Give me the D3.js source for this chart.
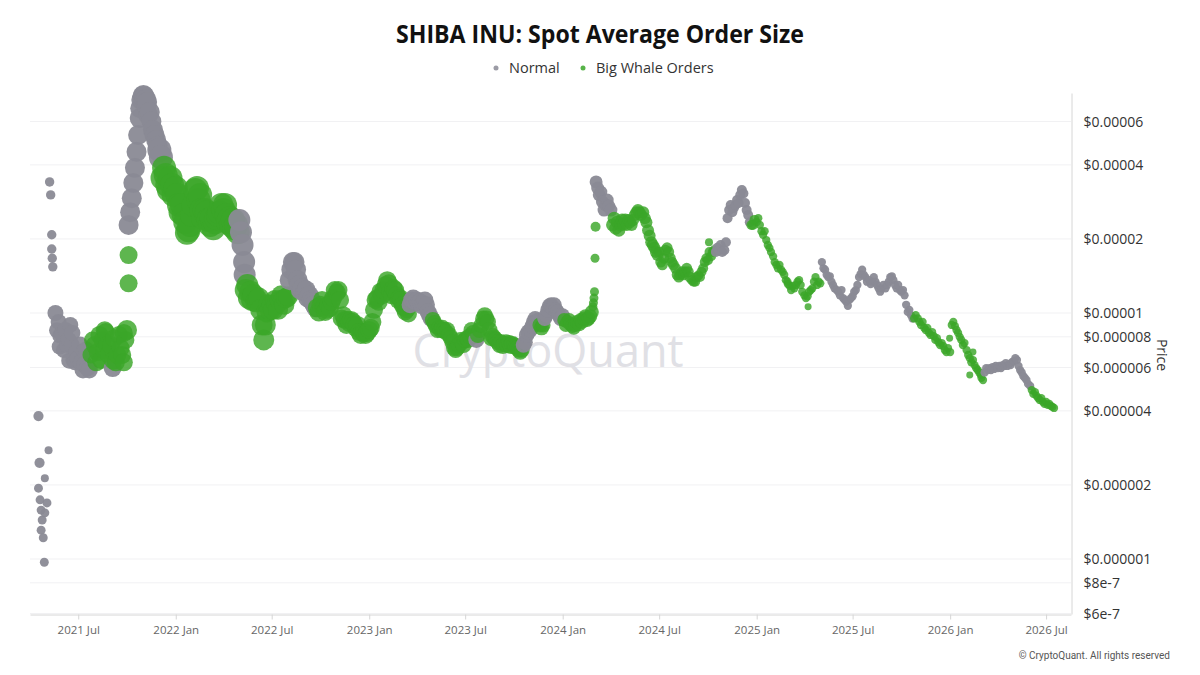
<!DOCTYPE html>
<html><head><meta charset="utf-8">
<script src="https://cdn.jsdelivr.net/npm/d3@7"></script>
<style>html,body{margin:0;padding:0;background:#fff;} svg{display:block;font-family:"Open Sans",sans-serif;}</style>
</head><body><svg id="c" width="1200" height="675"></svg>
<script>
// ---------------- DATA ----------------
const seriesNames = ["Normal", "Big Whale Orders"];
const xTickDates = ["2021-07-01","2022-01-01","2022-07-01","2023-01-01","2023-07-01","2024-01-01","2024-07-01","2025-01-01","2025-07-01","2026-01-01","2026-07-01"];
const yTickValues = [6e-7, 8e-7, 1e-6, 2e-6, 4e-6, 6e-6, 8e-6, 1e-5, 2e-5, 4e-5, 6e-5];
const yTickLabels = ["$6e-7","$8e-7","$0.000001","$0.000002","$0.000004","$0.000006","$0.000008","$0.00001","$0.00002","$0.00004","$0.00006"];

// sampling days inside each month
const days = [1,4,7,10,13,16,19,22,25,28];
const months = ["2021-05","2021-06","2021-07","2021-08","2021-09","2021-10","2021-11","2021-12",
"2022-01","2022-02","2022-03","2022-04","2022-05","2022-06","2022-07","2022-08","2022-09","2022-10","2022-11","2022-12",
"2023-01","2023-02","2023-03","2023-04","2023-05","2023-06","2023-07","2023-08","2023-09","2023-10","2023-11","2023-12",
"2024-01","2024-02","2024-03","2024-04","2024-05","2024-06","2024-07","2024-08","2024-09","2024-10","2024-11","2024-12",
"2025-01","2025-02","2025-03","2025-04","2025-05","2025-06","2025-07","2025-08","2025-09","2025-10","2025-11","2025-12",
"2026-01","2026-02","2026-03","2026-04","2026-05","2026-06","2026-07"];
// price (USD) on each sampling day
const monthPrices = [
[null,null,null,null,null,null,1.0e-5,8.5e-6,9.2e-6,8.1e-6],
[8.14e-6,7.07e-6,8.53e-6,7.41e-6,7.77e-6,8.94e-6,7.41e-6,6.44e-6,6.3e-6,6.94e-6],
[6.5e-6,7.41e-6,6.3e-6,5.86e-6,6.14e-6,7.07e-6,5.97e-6,5.86e-6,6.75e-6,7.77e-6],
[7.41e-6,6.3e-6,6.94e-6,8.14e-6,6.44e-6,7.77e-6,7.07e-6,8.37e-6,7.41e-6,6.75e-6],
[7.41e-6,5.97e-6,7.9e-6,6.3e-6,6.75e-6,8.14e-6,7.2e-6,6.75e-6,6.3e-6,7.77e-6],
[8.53e-6,2.28e-5,2.57e-5,2.93e-5,3.38e-5,3.89e-5,4.52e-5,5.29e-5,6.2e-5,7.34e-5],
[7.7e-5,7.34e-5,6.94e-5,6.38e-5,6.56e-5,6.0e-5,5.55e-5,5.29e-5,5.05e-5,4.78e-5],
[4.6e-5,4.3e-5,3.54e-5,3.89e-5,3.64e-5,3.31e-5,3.16e-5,3.54e-5,3.31e-5,3.02e-5],
[3.22e-5,3.02e-5,2.75e-5,2.57e-5,2.75e-5,2.5e-5,2.34e-5,2.12e-5,2.17e-5,2.28e-5],
[2.5e-5,2.75e-5,3.16e-5,3.22e-5,2.88e-5,3.02e-5,2.62e-5,2.43e-5,2.62e-5,2.52e-5],
[2.57e-5,2.39e-5,2.28e-5,2.43e-5,2.21e-5,2.34e-5,2.43e-5,2.5e-5,2.57e-5,2.75e-5],
[2.62e-5,2.75e-5,2.5e-5,2.34e-5,2.43e-5,2.28e-5,2.39e-5,2.21e-5,2.28e-5,2.13e-5],
[2.39e-5,2.13e-5,1.89e-5,1.61e-5,1.24e-5,1.3e-5,1.15e-5,1.22e-5,1.13e-5,1.18e-5],
[1.11e-5,1.13e-5,1.15e-5,1.03e-5,8.94e-6,7.77e-6,8.94e-6,1.01e-5,1.08e-5,1.03e-5],
[1.08e-5,1.03e-5,1.13e-5,1.08e-5,1.03e-5,1.13e-5,1.18e-5,1.13e-5,1.08e-5,1.15e-5],
[1.17e-5,1.36e-5,1.5e-5,1.61e-5,1.61e-5,1.5e-5,1.36e-5,1.3e-5,1.24e-5,1.26e-5],
[1.21e-5,1.24e-5,1.15e-5,1.18e-5,1.13e-5,1.11e-5,1.08e-5,1.05e-5,1.05e-5,1.01e-5],
[1.08e-5,1.13e-5,1.06e-5,1.01e-5,1.03e-5,1.08e-5,1.05e-5,1.11e-5,1.15e-5,1.24e-5],
[1.21e-5,1.24e-5,1.13e-5,9.5e-6,9.8e-6,9.37e-6,8.94e-6,9.37e-6,9.1e-6,9.37e-6],
[9.2e-6,8.94e-6,8.7e-6,8.94e-6,8.37e-6,8.14e-6,8.37e-6,8.3e-6,8.14e-6,8.3e-6],
[8.53e-6,8.7e-6,9.2e-6,1.03e-5,1.13e-5,1.15e-5,1.11e-5,1.22e-5,1.18e-5,1.24e-5],
[1.3e-5,1.36e-5,1.32e-5,1.22e-5,1.18e-5,1.26e-5,1.24e-5,1.18e-5,1.13e-5,1.15e-5],
[1.13e-5,1.08e-5,1.05e-5,1.01e-5,1.03e-5,9.9e-6,1.08e-5,1.13e-5,1.15e-5,1.11e-5],
[1.13e-5,1.1e-5,1.11e-5,1.07e-5,1.09e-5,1.13e-5,1.08e-5,1.01e-5,9.8e-6,9.5e-6],
[9.37e-6,9.1e-6,8.85e-6,8.53e-6,8.7e-6,8.53e-6,8.7e-6,8.53e-6,8.37e-6,8.53e-6],
[8.14e-6,7.9e-6,7.6e-6,7.2e-6,7.07e-6,7.2e-6,7.41e-6,7.77e-6,7.6e-6,7.41e-6],
[7.77e-6,7.9e-6,7.77e-6,8.06e-6,8.53e-6,8.3e-6,8.06e-6,7.77e-6,8.14e-6,8.53e-6],
[8.94e-6,9.5e-6,9.8e-6,9.5e-6,9.2e-6,8.53e-6,7.9e-6,8.06e-6,7.9e-6,7.77e-6],
[7.6e-6,7.41e-6,7.6e-6,7.34e-6,7.48e-6,7.6e-6,7.41e-6,7.55e-6,7.34e-6,7.48e-6],
[7.41e-6,7.27e-6,7.2e-6,7.07e-6,6.94e-6,7.07e-6,7.41e-6,7.6e-6,8.14e-6,8.37e-6],
[8.53e-6,8.85e-6,9.2e-6,9.5e-6,9.2e-6,9.37e-6,8.94e-6,8.7e-6,8.94e-6,9.5e-6],
[9.8e-6,1.03e-5,1.07e-5,1.08e-5,1.05e-5,1.08e-5,1.03e-5,1.01e-5,9.8e-6,9.5e-6],
[9.8e-6,9.37e-6,8.94e-6,9.2e-6,9.37e-6,9.0e-6,8.85e-6,8.7e-6,8.94e-6,9.2e-6],
[9.0e-6,9.37e-6,9.2e-6,9.5e-6,9.7e-6,9.37e-6,9.5e-6,9.7e-6,1.01e-5,null],
[null,3.41e-5,3.22e-5,3.02e-5,3.1e-5,2.83e-5,2.62e-5,2.75e-5,2.88e-5,2.72e-5],
[2.62e-5,2.28e-5,2.43e-5,2.21e-5,2.34e-5,2.17e-5,2.28e-5,2.39e-5,2.3e-5,2.39e-5],
[2.28e-5,2.39e-5,2.34e-5,2.28e-5,2.39e-5,2.5e-5,2.57e-5,2.62e-5,2.57e-5,2.5e-5],
[2.57e-5,2.43e-5,2.34e-5,2.17e-5,2.06e-5,1.94e-5,1.89e-5,1.84e-5,1.77e-5,1.72e-5],
[1.77e-5,1.61e-5,1.57e-5,1.67e-5,1.8e-5,1.84e-5,1.77e-5,1.67e-5,1.61e-5,1.57e-5],
[1.52e-5,1.43e-5,1.4e-5,1.43e-5,1.47e-5,1.43e-5,1.47e-5,1.52e-5,1.47e-5,1.4e-5],
[1.36e-5,1.34e-5,1.34e-5,1.4e-5,1.42e-5,1.4e-5,1.47e-5,1.52e-5,1.61e-5,1.67e-5],
[1.64e-5,1.77e-5,1.7e-5,1.77e-5,1.8e-5,1.77e-5,1.84e-5,1.8e-5,1.89e-5,1.77e-5],
[1.8e-5,1.94e-5,2.43e-5,2.62e-5,2.75e-5,2.57e-5,2.67e-5,2.75e-5,2.88e-5,2.8e-5],
[3.02e-5,3.16e-5,3.06e-5,2.8e-5,2.62e-5,2.5e-5,2.34e-5,2.28e-5,2.28e-5,2.39e-5],
[2.34e-5,2.43e-5,2.28e-5,2.15e-5,2.08e-5,2.15e-5,1.98e-5,1.89e-5,1.84e-5,1.77e-5],
[1.7e-5,1.61e-5,1.57e-5,1.52e-5,1.57e-5,1.5e-5,1.47e-5,1.43e-5,1.36e-5,1.34e-5],
[1.31e-5,1.29e-5,1.24e-5,1.29e-5,1.26e-5,1.3e-5,1.34e-5,1.36e-5,1.3e-5,1.22e-5],
[1.18e-5,1.15e-5,1.17e-5,1.22e-5,1.24e-5,1.26e-5,1.34e-5,1.4e-5,1.3e-5,1.34e-5],
[1.32e-5,1.61e-5,1.52e-5,1.5e-5,1.43e-5,1.4e-5,1.41e-5,1.34e-5,1.3e-5,1.26e-5],
[1.24e-5,1.22e-5,1.18e-5,1.24e-5,1.15e-5,1.13e-5,1.11e-5,1.07e-5,1.13e-5,1.15e-5],
[1.17e-5,1.22e-5,1.24e-5,1.3e-5,1.4e-5,1.44e-5,1.5e-5,1.43e-5,1.4e-5,1.34e-5],
[1.36e-5,1.31e-5,1.34e-5,1.4e-5,1.34e-5,1.3e-5,1.26e-5,1.22e-5,1.26e-5,1.3e-5],
[1.26e-5,1.3e-5,1.34e-5,1.4e-5,1.41e-5,1.36e-5,1.3e-5,1.26e-5,1.3e-5,1.24e-5],
[1.22e-5,1.24e-5,1.18e-5,1.08e-5,1.01e-5,1.03e-5,9.8e-6,9.5e-6,9.5e-6,9.8e-6],
[9.5e-6,9.2e-6,8.94e-6,9.2e-6,8.7e-6,8.53e-6,8.7e-6,8.3e-6,8.14e-6,8.37e-6],
[8.06e-6,7.77e-6,7.9e-6,7.6e-6,7.41e-6,7.55e-6,7.34e-6,7.07e-6,6.94e-6,7.2e-6],
[6.94e-6,8.94e-6,9.2e-6,8.85e-6,8.53e-6,8.3e-6,8.0e-6,7.77e-6,7.41e-6,7.55e-6],
[7.07e-6,6.75e-6,6.55e-6,6.3e-6,6.44e-6,6.14e-6,5.97e-6,5.86e-6,5.73e-6,5.6e-6],
[5.45e-6,5.34e-6,5.73e-6,5.97e-6,5.86e-6,5.97e-6,5.86e-6,6.03e-6,5.92e-6,6.09e-6],
[5.97e-6,6.09e-6,5.97e-6,6.14e-6,6.09e-6,6.26e-6,6.09e-6,6.2e-6,6.14e-6,6.32e-6],
[6.38e-6,6.55e-6,6.44e-6,6.09e-6,5.86e-6,5.73e-6,5.54e-6,5.45e-6,5.34e-6,5.15e-6],
[5.05e-6,4.86e-6,4.69e-6,4.77e-6,4.6e-6,4.51e-6,4.43e-6,4.51e-6,4.35e-6,4.27e-6],
[4.35e-6,4.23e-6,4.27e-6,4.19e-6,4.15e-6,4.11e-6,null,null,null,null]
];
// N = Normal, W = Big Whale Orders
const monthKinds = [
"NNNNNNNNNN","NNNNNNNNNN","NNNNNNNNWW","WWWWWWWWWW","WNWWWWWWWW","WNNNNNNNNN","NNNNNNNNNN","NNWWWWWWWW",
"WWWWWWWWWW","WWWWWWWWWW","WWWWWWWWWW","WWWWWWWWWW","NNNNWWWWWW","WWWWWWWWWW","WWWWWWWWWW","WNNNNNNNNN","NNNNNNNNWW","WWWWWWWWWW","WWWWWWWWWW","WWWWWWWWWW",
"WWWWWWWWWW","WWWWWWWWWW","WWWWWWNNNN","NNNNNNNNNN","WWWWWWWWWW","WWWWWWWWWW","WWWWWWWNWW","WWWWWWWWWW","WWWWWWWWWW","WWWWWWNNNN","NNNNNNWWWN","NNNNNNNNNN",
"NWWWWWWWWW","WWWWWWWWWW","NNNNNNNNNN","NWWWWWWWWW","WWWWWWWWWW","WWWWWWWWWW","WWWWWWWWWW","WWWWWWWWWW","WWWWWWWWWW","WWWWWNNNNN","NNNNNNNNNN","NNNNNNNWWW",
"WWWWWWWWWW","WWWWWWWWWW","WWWWWWWWWW","WWWWWWWWWW","WNNNNNNNNN","NNNNNNNNNN","NNNNNNNNNN","NNNNNNNNNN","NNNNNNNNNN","NNNNNNNNWW","WWWWWWWWWW","WWWWWWWWWW",
"WWWWWWWWWW","WWWWWWWWWW","WWNNNNNNNN","NNNNNNNNNN","NNNNNNNNNN","NWWWWWWWWW","WWWWWW----"
];
// relative average order size (bubble area)
const monthOrderSize = [640,640,720,810,810,1000,1000,1440,
1440,1440,1440,1440,1210,1100,1000,1000,900,810,810,810,
810,810,720,720,640,640,640,640,640,600,560,560,
490,490,420,420,360,360,300,300,250,250,250,250,
170,170,170,170,170,170,170,170,170,170,170,170,
170,170,170,170,170,170,170];

// isolated / extra observations
const extraDates = ["2021-04-17","2021-04-19","2021-04-17","2021-04-20","2021-04-22","2021-04-24","2021-04-22","2021-04-26","2021-04-28","2021-04-29","2021-04-29","2021-05-03","2021-05-06",
"2021-05-08","2021-05-10","2021-05-12","2021-05-12","2021-05-13","2021-05-14",
"2021-05-27","2021-06-14","2021-06-20","2021-07-12",
"2021-08-20","2021-09-05","2021-09-25",
"2021-10-04","2021-10-04","2021-10-26","2021-10-30","2021-11-03","2021-11-06","2021-11-08","2022-05-11",
"2024-02-27","2024-02-28","2024-02-29","2024-03-01","2024-03-02","2024-03-03",
"2024-10-03","2025-04-08","2025-12-31","2026-02-07","2026-02-13"];
const extraPrices = [3.81e-6,2.46e-6,1.94e-6,1.74e-6,1.58e-6,1.44e-6,1.31e-6,1.22e-6,9.7e-7,2.13e-6,1.54e-6,1.69e-6,2.77e-6,
3.41e-5,3.02e-5,2.08e-5,1.82e-5,1.67e-5,1.54e-5,
7.3e-6,6.4e-6,8.3e-6,7.0e-6,
8.5e-6,6.4e-6,8.3e-6,
1.72e-5,1.32e-5,6.8e-5,7.6e-5,7.6e-5,7.4e-5,7.2e-5,1.43e-5,
1.06e-5,1.1e-5,1.15e-5,1.22e-5,1.67e-5,2.24e-5,
1.94e-5,1.06e-5,7.9e-6,5.6e-6,6.94e-6];
const extraKinds = ["N","N","N","N","N","N","N","N","N","N","N","N","N",
"N","N","N","N","N","N",
"N","N","N","N",
"W","W","W",
"W","W","N","N","N","N","N","N",
"W","W","W","W","W","W",
"W","W","W","W","W"];
const extraOrderSize = [260,260,200,200,200,200,200,200,200,160,200,200,160,
220,220,220,220,220,220,
640,640,640,640,
810,810,810,
810,810,1000,1000,1000,1000,1000,1210,
202,202,202,202,202,250,
160,122,122,122,122];

// ---------------- CHART ----------------
const parse = d3.utcParse("%Y-%m-%d");
const points = [];
months.forEach((m, i) => {
  days.forEach((dd, j) => {
    const p = monthPrices[i][j];
    if (p == null) return;
    points.push({date: parse(m + "-" + String(dd).padStart(2, "0")), price: p, kind: monthKinds[i][j], size: monthOrderSize[i]});
  });
});
extraDates.forEach((d, i) => points.push({date: parse(d), price: extraPrices[i], kind: extraKinds[i], size: extraOrderSize[i]}));
points.sort((a, b) => a.date - b.date);

const plot = {left: 30, right: 1071, top: 93, bottom: 614};
const svg = d3.select("#c");
const x = d3.scaleUtc().domain([parse("2021-04-01"), parse("2026-08-17")]).range([plot.left, plot.right]);
const y = d3.scaleLog().domain([5.975e-7, 7.84e-5]).range([plot.bottom, plot.top]);
const r = d3.scaleSqrt().domain([0, 1440]).range([0, 12]);
const color = d3.scaleOrdinal().domain(["N", "W"]).range(["#8a8a95", "#3aa628"]);
const opac = {N: 0.95, W: 0.82};

// gridlines
svg.append("g").selectAll("line").data(yTickValues).join("line")
  .attr("x1", plot.left).attr("x2", plot.right)
  .attr("y1", d => y(d)).attr("y2", d => y(d))
  .attr("stroke", "#f1f1f3").attr("stroke-width", 1);

// watermark
svg.append("text").attr("x", 548).attr("y", 367).attr("text-anchor", "middle")
  .attr("font-size", 45).attr("font-weight", 500).attr("fill", "#e0e0e5")
  .attr("font-family", "'Open Sans', sans-serif").text("CryptoQuant");

// bottom axis
const xAxis = d3.axisBottom(x).tickValues(xTickDates.map(parse)).tickFormat(d3.utcFormat("%Y %b")).tickSize(5).tickSizeOuter(0).tickPadding(6);
const gx = svg.append("g").attr("transform", `translate(0,${plot.bottom + 0.5})`).call(xAxis);
gx.select(".domain").attr("stroke", "#d6d6d6");
gx.selectAll(".tick line").attr("stroke", "#d6d6d6");
gx.selectAll(".tick text").attr("fill", "#666").attr("font-size", 11.5).attr("font-family", "'Open Sans', sans-serif");

// right axis
const yAxis = d3.axisRight(y).tickValues(yTickValues).tickFormat((d, i) => yTickLabels[i]).tickSize(0).tickSizeOuter(0).tickPadding(12);
const gy = svg.append("g").attr("transform", `translate(${plot.right + 0.5},0)`).call(yAxis);
gy.select(".domain").attr("stroke", "#d6d6d6");
gy.selectAll(".tick text").attr("fill", "#333").attr("font-size", 14).attr("font-family", "'Open Sans', sans-serif");

svg.append("text").attr("transform", "translate(1157,355) rotate(90)").attr("text-anchor", "middle")
  .attr("font-size", 14).attr("fill", "#333").text("Price");

// points
svg.append("g").selectAll("circle").data(points).join("circle")
  .attr("cx", d => x(d.date)).attr("cy", d => y(d.price)).attr("r", d => r(d.size))
  .attr("fill", d => color(d.kind)).attr("fill-opacity", d => opac[d.kind]);

// title
const title = svg.append("text").attr("x", 600).attr("y", 43).attr("text-anchor", "middle")
  .attr("font-size", 25).attr("font-weight", 700).attr("fill", "#111").text("SHIBA INU: Spot Average Order Size");
const tw = title.node().getComputedTextLength();
if (tw > 408) title.attr("textLength", 408).attr("lengthAdjust", "spacingAndGlyphs");

// legend
const legendX = [496, 583];
const lg = svg.append("g");
seriesNames.forEach((name, i) => {
  lg.append("circle").attr("cx", legendX[i]).attr("cy", 68).attr("r", 2.5).attr("fill", color(["N","W"][i])).attr("fill-opacity", 0.85);
  lg.append("text").attr("x", legendX[i] + 13).attr("y", 73).attr("font-size", 14.5).attr("fill", "#333").text(name);
});

// copyright
svg.append("text").attr("x", 1170).attr("y", 659).attr("text-anchor", "end").attr("font-size", 10)
  .attr("fill", "#555").attr("font-family", "Roboto, sans-serif").text("© CryptoQuant. All rights reserved");
</script></body></html>
